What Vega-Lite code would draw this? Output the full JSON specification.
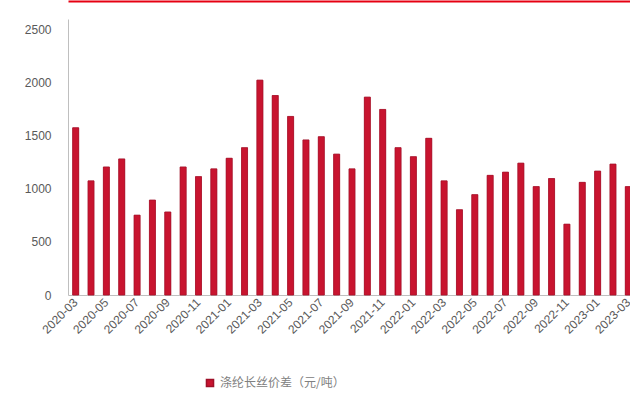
{
  "$schema": "https://vega.github.io/schema/vega-lite/v6.json",
  "autosize": "none",
  "width": 568,
  "height": 276,
  "padding": {"left": 68, "top": 19, "right": 0, "bottom": 99},
  "background": "white",
  "config": {
    "view": {"stroke": null},
    "font": "Liberation Sans",
    "axis": {"labelColor": "#595959", "labelFontSize": 12, "domainColor": "#BFBFBF", "grid": false, "ticks": false, "title": null}
  },
  "data": {
    "values": [
      {"month": "2020-03", "spread": 1575},
      {"month": "2020-04", "spread": 1075},
      {"month": "2020-05", "spread": 1206},
      {"month": "2020-06", "spread": 1282},
      {"month": "2020-07", "spread": 752},
      {"month": "2020-08", "spread": 894},
      {"month": "2020-09", "spread": 782},
      {"month": "2020-10", "spread": 1206},
      {"month": "2020-11", "spread": 1115},
      {"month": "2020-12", "spread": 1188},
      {"month": "2021-01", "spread": 1288},
      {"month": "2021-02", "spread": 1388},
      {"month": "2021-03", "spread": 2024},
      {"month": "2021-04", "spread": 1879},
      {"month": "2021-05", "spread": 1682},
      {"month": "2021-06", "spread": 1461},
      {"month": "2021-07", "spread": 1491},
      {"month": "2021-08", "spread": 1327},
      {"month": "2021-09", "spread": 1188},
      {"month": "2021-10", "spread": 1864},
      {"month": "2021-11", "spread": 1748},
      {"month": "2021-12", "spread": 1388},
      {"month": "2022-01", "spread": 1303},
      {"month": "2022-02", "spread": 1476},
      {"month": "2022-03", "spread": 1075},
      {"month": "2022-04", "spread": 803},
      {"month": "2022-05", "spread": 945},
      {"month": "2022-06", "spread": 1127},
      {"month": "2022-07", "spread": 1157},
      {"month": "2022-08", "spread": 1242},
      {"month": "2022-09", "spread": 1021},
      {"month": "2022-10", "spread": 1097},
      {"month": "2022-11", "spread": 667},
      {"month": "2022-12", "spread": 1061},
      {"month": "2023-01", "spread": 1167},
      {"month": "2023-02", "spread": 1233},
      {"month": "2023-03", "spread": 1021}
    ]
  },
  "layer": [
    {
      "mark": {"type": "bar", "width": 6, "stroke": "#9E1028", "strokeWidth": 0.5},
      "encoding": {
        "x": {
          "field": "month", "type": "ordinal", "sort": null,
          "scale": {"paddingInner": 0, "paddingOuter": 0},
          "axis": {
            "orient": "bottom",
            "values": ["2020-03","2020-05","2020-07","2020-09","2020-11","2021-01","2021-03","2021-05","2021-07","2021-09","2021-11","2022-01","2022-03","2022-05","2022-07","2022-09","2022-11","2023-01","2023-03"],
            "labelAngle": -45, "labelAlign": "right", "labelBaseline": "middle", "labelPadding": 5
          }
        },
        "y": {
          "field": "spread", "type": "quantitative",
          "scale": {"domain": [0, 2500]},
          "axis": {"values": [0, 500, 1000, 1500, 2000, 2500], "format": "d", "labelPadding": 17}
        },
        "color": {
          "datum": "涤纶长丝价差（元/吨）",
          "scale": {"range": ["#C8142F"]},
          "legend": {
            "orient": "none", "legendX": 136, "legendY": 358,
            "title": null, "symbolType": "square", "symbolSize": 50,
            "labelFont": "Noto Sans CJK SC", "labelFontSize": 12, "labelColor": "#808080"
          }
        }
      }
    },
    {
      "mark": {"type": "bar", "width": 6, "stroke": "#9E1028", "strokeWidth": 0.5, "color": "#C8142F"},
      "encoding": {
        "x": {
          "field": "month", "type": "ordinal", "sort": null,
          "axis": {"orient": "top", "labels": false, "ticks": false, "domainColor": "#E60012", "domainWidth": 2, "offset": 18}
        },
        "y": {"field": "spread", "type": "quantitative"}
      }
    }
  ],
  "resolve": {"axis": {"x": "independent"}}
}
